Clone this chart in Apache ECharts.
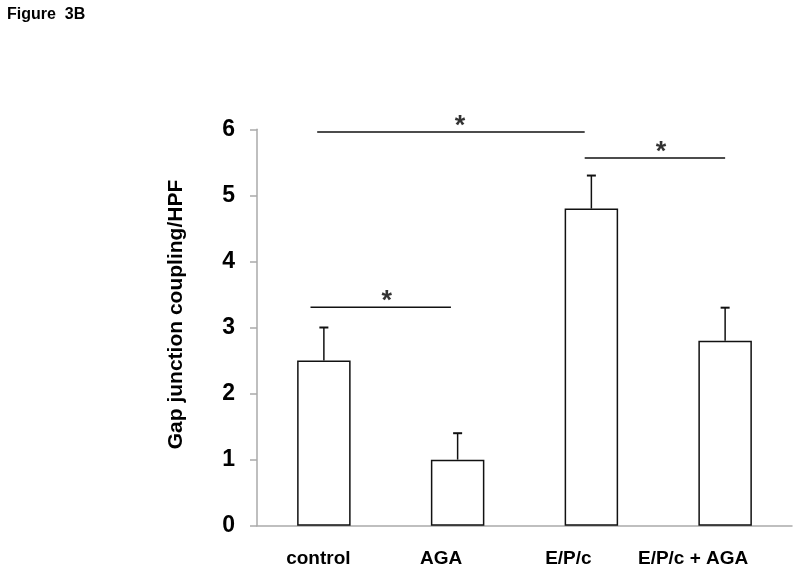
<!DOCTYPE html>
<html>
<head>
<meta charset="utf-8">
<script src="https://cdn.jsdelivr.net/npm/echarts@6/dist/echarts.min.js"></script>
<style>html,body{margin:0;padding:0;background:#fff;}#c{width:800px;height:573px;}</style>
</head>
<body>
<div id="c"></div>
<script>
const categories = ['control', 'AGA', 'E/P/c', 'E/P/c + AGA'];
const means = [2.5, 1.0, 4.8, 2.8];
const errors = [0.5, 0.4, 0.5, 0.5];
const yTicks = [0, 1, 2, 3, 4, 5, 6];
// significance brackets: [xStart, xEnd, y] in category-index units
const sigLines = [[-0.05, 1.95, 5.96], [1.95, 3.0, 5.565], [-0.1, 0.95, 3.305]];
const sigStars = [[1.018, 5.96], [2.52, 5.565], [0.47, 3.305]];
const labelShift = [11, 33, 46, 64];

const font = '"Liberation Sans", Arial, sans-serif';
const chart = echarts.init(document.getElementById('c'));

const rich = {};
categories.forEach((c, i) => {
  rich['c' + i] = { padding: [0, labelShift[i], 0, 0], fontSize: 19, fontWeight: 'bold', fontFamily: font, color: '#000' };
});

const series = [
  {
    type: 'bar',
    data: means,
    barWidth: '40%',
    itemStyle: { color: '#fff', borderColor: '#111', borderWidth: 1.5 },
    z: 2
  },
  {
    type: 'custom',
    data: means.map((m, i) => [i, m, m + errors[i]]),
    renderItem: function (params, api) {
      const p0 = api.coord([api.value(0), api.value(1)]);
      const p1 = api.coord([api.value(0), api.value(2)]);
      const hw = 4.5;
      return {
        type: 'group',
        children: [
          { type: 'line', shape: { x1: p0[0], y1: p0[1], x2: p1[0], y2: p1[1] }, style: { stroke: '#111', lineWidth: 1.5 } },
          { type: 'line', shape: { x1: p1[0] - hw, y1: p1[1], x2: p1[0] + hw, y2: p1[1] }, style: { stroke: '#111', lineWidth: 2 } }
        ]
      };
    },
    z: 3
  }
];

sigLines.forEach(l => {
  series.push({
    type: 'line',
    xAxisIndex: 1,
    data: [[l[0], l[2]], [l[1], l[2]]],
    symbol: 'none',
    lineStyle: { color: '#111', width: 1.5 },
    silent: true,
    z: 4
  });
});
series.push({
  type: 'scatter',
  xAxisIndex: 1,
  data: sigStars,
  symbolSize: 0,
  label: {
    show: true,
    formatter: '*',
    position: 'top',
    distance: -8,
    fontSize: 27,
    fontWeight: 'bold',
    fontFamily: font,
    color: '#000'
  },
  silent: true,
  z: 5
});

chart.setOption({
  backgroundColor: '#fff',
  animation: false,
  title: {
    text: 'Figure  3B',
    left: 7,
    top: 7,
    padding: 0,
    textStyle: { fontSize: 16, fontWeight: 'bold', fontFamily: font, color: '#000' }
  },
  grid: { left: 257, right: 8, top: 129.3, bottom: 47.3 },
  xAxis: [
    {
      type: 'category',
      data: categories,
      axisLine: { onZero: false, lineStyle: { color: '#aaa', width: 1.5 } },
      axisTick: { show: false },
      axisLabel: {
        margin: 24,
        interval: 0,
        formatter: function (v, i) { return '{c' + i + '|' + v + '}'; },
        rich: rich
      }
    },
    {
      type: 'value',
      min: -0.5,
      max: 3.5,
      show: false
    }
  ],
  yAxis: {
    type: 'value',
    min: yTicks[0],
    max: yTicks[yTicks.length - 1],
    interval: 1,
    name: 'Gap junction coupling/HPF',
    nameLocation: 'middle',
    nameRotate: 90,
    nameGap: 70,
    nameTextStyle: { fontSize: 21, fontWeight: 'bold', fontFamily: font, color: '#000', padding: [0, 0, 0, 26] },
    axisLine: { show: true, onZero: false, lineStyle: { color: '#aaa', width: 1.5 } },
    axisTick: { show: true, length: 7, lineStyle: { color: '#aaa', width: 1.5 } },
    axisLabel: { margin: 22, fontSize: 23, fontWeight: 'bold', fontFamily: font, color: '#000' },
    splitLine: { show: false }
  },
  series: series
});
</script>
</body>
</html>
